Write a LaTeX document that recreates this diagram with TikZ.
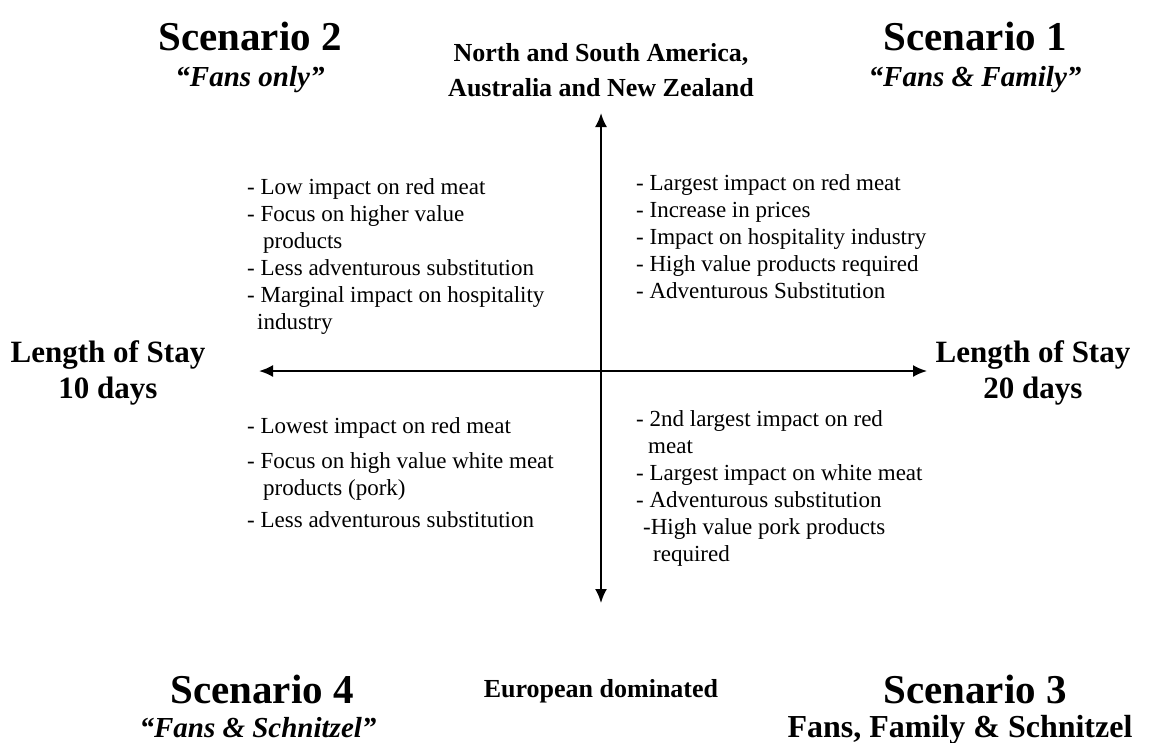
\documentclass[tikz,border=0pt]{standalone}
\usepackage{fontspec}
\setmainfont{Liberation Serif}
\usetikzlibrary{arrows.meta}
\begin{document}
\begin{tikzpicture}[x=1pt,y=-1pt,
  axis/.style={line width=2pt,{Latex[length=14pt,width=12pt]}-{Latex[length=14pt,width=12pt]}},
  body/.style={anchor=base west,inner sep=0pt,font=\fontsize{23}{27}\selectfont},
  scen/.style={anchor=base,inner sep=0pt,font=\fontsize{41}{45}\selectfont\bfseries},
  nick/.style={anchor=base,inner sep=0pt,font=\fontsize{29}{33}\selectfont\bfseries\itshape},
  lab/.style={anchor=base,inner sep=0pt,font=\fontsize{31}{35}\selectfont\bfseries},
  region/.style={anchor=base,inner sep=0pt,font=\fontsize{26}{30}\selectfont\bfseries}]
\useasboundingbox (0,0) rectangle (1151,742);
% axes
\coordinate (top) at (601,113);
\coordinate (bot) at (601,603);
\coordinate (lft) at (259,371);
\coordinate (rgt) at (927,371);
\draw[axis] (top) -- (bot);
\draw[axis] (lft) -- (rgt);
% headings
\node[scen] (s2) at (250,50) {Scenario 2};
\node[nick] (s2n) at (250,86) {“Fans only”};
\node[scen] (s1) at (975,50) {Scenario 1};
\node[nick] (s1n) at (975,86) {“Fans \& Family”};
\node[region] (na1) at (601,61) {North and South America,};
\node[region] (na2) at (601,96) {Australia and New Zealand};
\node[lab] (ll1) at (108,362) {Length of Stay};
\node[lab] (ll2) at (108,398) {10 days};
\node[lab] (rl1) at (1033,362) {Length of Stay};
\node[lab] (rl2) at (1033,398) {20 days};
\node[region] (eu) at (601,697) {European dominated};
\node[scen] (s4) at (262,703) {Scenario 4};
\node[nick] (s4n) at (258,737) {“Fans \& Schnitzel”};
\node[scen] (s3) at (975,703) {Scenario 3};
\node[lab] (s3n) at (960,737) {\fontsize{32}{36}\selectfont Fans, Family \& Schnitzel};
% top-left
\node[body] (a1) at (247,194) {- Low impact on red meat};
\node[body] (a2) at (247,221) {- Focus on higher value};
\node[body] (a3) at (263,248) {products};
\node[body] (a4) at (247,275) {- Less adventurous substitution};
\node[body] (a5) at (247,302) {- Marginal impact on hospitality};
\node[body] (a6) at (257,329) {industry};
% top-right
\node[body] (b1) at (636,190) {- Largest impact on red meat};
\node[body] (b2) at (636,217) {- Increase in prices};
\node[body] (b3) at (636,244) {- Impact on hospitality industry};
\node[body] (b4) at (636,271) {- High value products required};
\node[body] (b5) at (636,298) {- Adventurous Substitution};
% bottom-left
\node[body] (c1) at (247,433) {- Lowest impact on red meat};
\node[body] (c2) at (247,468) {- Focus on high value white meat};
\node[body] (c3) at (263,495) {products (pork)};
\node[body] (c4) at (247,527) {- Less adventurous substitution};
% bottom-right
\node[body] (d1) at (636,426) {- 2nd largest impact on red};
\node[body] (d2) at (648,453) {meat};
\node[body] (d3) at (636,480) {- Largest impact on white meat};
\node[body] (d4) at (636,507) {- Adventurous substitution};
\node[body] (d5) at (643,534) {-High value pork products};
\node[body] (d6) at (653,561) {required};
\end{tikzpicture}
\end{document}
